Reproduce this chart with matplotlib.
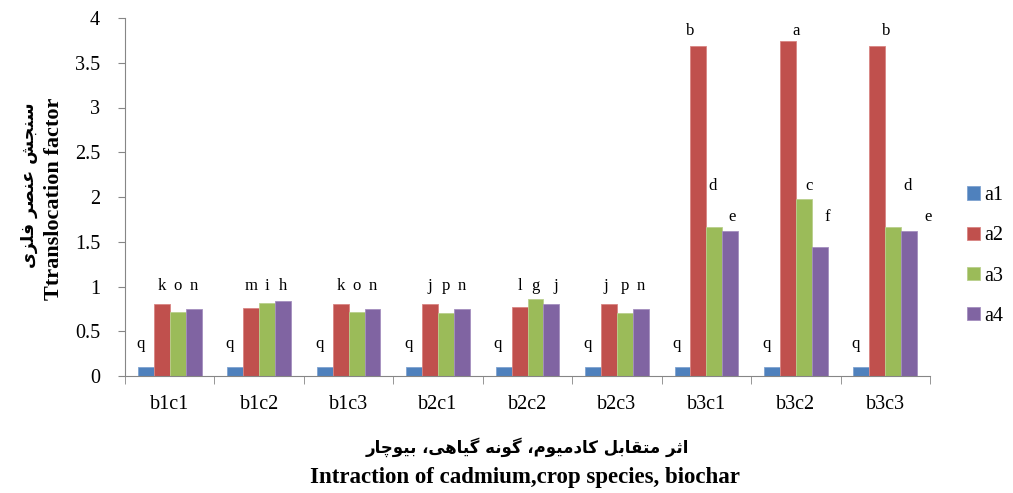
import numpy as np
import matplotlib
matplotlib.use('Agg')
import matplotlib.pyplot as plt
from matplotlib.ticker import FuncFormatter

# data
categories = ['b1c1', 'b1c2', 'b1c3', 'b2c1', 'b2c2', 'b2c3', 'b3c1', 'b3c2', 'b3c3']
series_names = ['a1', 'a2', 'a3', 'a4']
a1 = [0.10, 0.10, 0.10, 0.10, 0.10, 0.10, 0.10, 0.10, 0.10]
a2 = [0.80, 0.76, 0.80, 0.81, 0.77, 0.81, 3.69, 3.74, 3.69]
a3 = [0.72, 0.82, 0.72, 0.70, 0.86, 0.70, 1.66, 1.98, 1.66]
a4 = [0.745, 0.835, 0.745, 0.745, 0.81, 0.745, 1.62, 1.44, 1.62]

# significance letters
let_a1 = ['q'] * 9
let_a2 = ['k', 'm', 'k', 'j', 'l', 'j', 'b', 'a', 'b']
let_a3 = ['o', 'i', 'o', 'p', 'g', 'p', 'd', 'c', 'd']
let_a4 = ['n', 'h', 'n', 'n', 'j', 'n', 'e', 'f', 'e']

colors = ['#4F81BD', '#C0504D', '#9BBB59', '#8064A2']
edges = ['#7FA3D0', '#D98583', '#B9D08C', '#A48FBF']

ylabel_fa = 'سنجش عنصر فلزی'
ylabel_en = 'Ttranslocation factor'
xlabel_fa = 'اثر متقابل کادمیوم، گونه گیاهی، بیوچار'
xlabel_en = 'Intraction of cadmium,crop species, biochar'

# simple Persian shaping (presentation forms), since matplotlib does not shape Arabic script
FORMS = {
    'ا': ('\uFE8D', '\uFE8E', None, None),
    'ب': ('\uFE8F', '\uFE90', '\uFE91', '\uFE92'),
    'ت': ('\uFE95', '\uFE96', '\uFE97', '\uFE98'),
    'ث': ('\uFE99', '\uFE9A', '\uFE9B', '\uFE9C'),
    'ج': ('\uFE9D', '\uFE9E', '\uFE9F', '\uFEA0'),
    'د': ('\uFEA9', '\uFEAA', None, None),
    'ر': ('\uFEAD', '\uFEAE', None, None),
    'ز': ('\uFEAF', '\uFEB0', None, None),
    'س': ('\uFEB1', '\uFEB2', '\uFEB3', '\uFEB4'),
    'ش': ('\uFEB5', '\uFEB6', '\uFEB7', '\uFEB8'),
    'ص': ('\uFEB9', '\uFEBA', '\uFEBB', '\uFEBC'),
    'ع': ('\uFEC9', '\uFECA', '\uFECB', '\uFECC'),
    'ف': ('\uFED1', '\uFED2', '\uFED3', '\uFED4'),
    'ق': ('\uFED5', '\uFED6', '\uFED7', '\uFED8'),
    'ل': ('\uFEDD', '\uFEDE', '\uFEDF', '\uFEE0'),
    'م': ('\uFEE1', '\uFEE2', '\uFEE3', '\uFEE4'),
    'ن': ('\uFEE5', '\uFEE6', '\uFEE7', '\uFEE8'),
    'ه': ('\uFEE9', '\uFEEA', '\uFEEB', '\uFEEC'),
    'و': ('\uFEED', '\uFEEE', None, None),
    'ی': ('\uFBFC', '\uFBFD', '\uFBFE', '\uFBFF'),
    'ک': ('\uFB8E', '\uFB8F', '\uFB90', '\uFB91'),
    'گ': ('\uFB92', '\uFB93', '\uFB94', '\uFB95'),
    'چ': ('\uFB7A', '\uFB7B', '\uFB7C', '\uFB7D'),
}


def shape(s):
    out = []
    for i, ch in enumerate(s):
        f = FORMS.get(ch)
        if f is None:
            out.append(ch)
            continue
        prev = s[i - 1] if i > 0 else ''
        nxt = s[i + 1] if i < len(s) - 1 else ''
        jp = prev in FORMS and FORMS[prev][2] is not None
        jn = f[2] is not None and nxt in FORMS
        if jp and jn:
            out.append(f[3])
        elif jp:
            out.append(f[1])
        elif jn:
            out.append(f[2])
        else:
            out.append(f[0])
    return ''.join(reversed(out))


def main():
    plt.rcParams['font.family'] = ['Liberation Serif', 'DejaVu Serif']

    fig = plt.figure(figsize=(10.13, 4.93), dpi=100)
    ax = fig.add_axes([125 / 1013, 1 - 376 / 493, 805 / 1013, 358 / 493])

    values = [a1, a2, a3, a4]
    letters = [let_a1, let_a2, let_a3, let_a4]
    x = np.arange(len(categories))
    w = 0.178

    for j, (vals, name) in enumerate(zip(values, series_names)):
        ax.bar(x + (j - 1.5) * w, vals, w, color=colors[j], edgecolor=edges[j],
               linewidth=0.6, label=name, zorder=2)

    # letter placement (layout only)
    low_row = 1.0
    tall_rows = {1: 3.86, 2: 2.12, 3: 1.78}
    nudge = {(1, 6): -0.5, (2, 6): -0.12, (3, 6): 0.1,
             (1, 7): 0.54, (2, 7): 0.3, (3, 7): 0.46,
             (1, 8): 0.54, (2, 8): 0.9, (3, 8): 1.2,
             (3, 4): 0.27, (1, 5): -0.2}
    for i in range(len(categories)):
        tall = max(values[1][i], values[2][i], values[3][i]) > 2
        for j in range(4):
            if j == 0:
                yy = 0.36
                dx = -0.35
            else:
                yy = tall_rows[j] if tall else low_row
                dx = nudge.get((j, i), 0.0)
            ax.text(x[i] + (j - 1.5 + dx) * w, yy, letters[j][i],
                    ha='center', va='center', fontsize=12)

    ax.set_xlim(-0.5, len(categories) - 0.5)
    ax.set_ylim(0, 4)
    ax.set_yticks(np.arange(0, 4.01, 0.5))
    ax.yaxis.set_major_formatter(FuncFormatter(lambda v, p: f'{v:g}'))
    ax.set_xticks(x)
    ax.set_xticklabels(categories)
    ax.set_xticks(np.arange(-0.5, len(categories)), minor=True)
    ax.tick_params(axis='x', which='major', length=0, pad=14, labelsize=14.5)
    ax.tick_params(axis='x', which='minor', length=6, color='#868686')
    ax.tick_params(axis='y', length=5, color='#868686', labelsize=14.5, pad=13)
    for side in ['top', 'right']:
        ax.spines[side].set_visible(False)
    for side in ['left', 'bottom']:
        ax.spines[side].set_color('#868686')

    fig.text(29 / 1013, 1 - 185 / 493, shape(ylabel_fa), rotation=90, ha='center',
             va='center', fontsize=12.5, fontweight='bold', family=['DejaVu Sans'])
    fig.text(54 / 1013, 1 - 199 / 493, ylabel_en, rotation=90, ha='center',
             va='center', fontsize=16, fontweight='bold')
    fig.text(527 / 1013, 1 - 447 / 493, shape(xlabel_fa), ha='center',
             va='center', fontsize=12, fontweight='bold', family=['DejaVu Sans'])
    fig.text(525 / 1013, 1 - 478 / 493, xlabel_en, ha='center',
             va='center', fontsize=16.5, fontweight='bold')

    ax.legend(loc='center left', bbox_to_anchor=(967 / 1013, 1 - 256 / 493),
              bbox_transform=fig.transFigure, frameon=False, fontsize=14.5,
              handlelength=0.65, handleheight=0.65, handletextpad=0.2,
              labelspacing=1.05, borderpad=0, borderaxespad=0)

    fig.savefig('out.png', dpi=100)


if __name__ == '__main__':
    main()
